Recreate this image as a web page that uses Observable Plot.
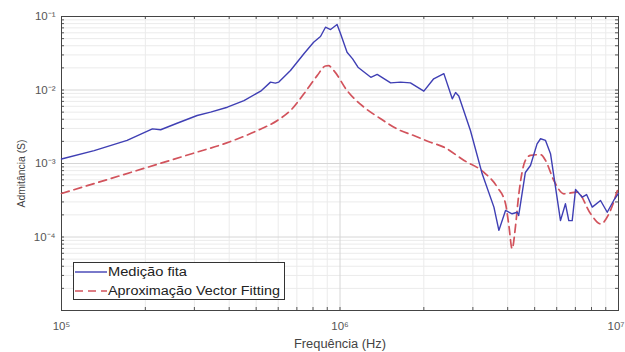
<!DOCTYPE html>
<html>
<head>
<meta charset="utf-8">
<script src="https://cdn.jsdelivr.net/npm/d3@7"></script>
<script src="https://cdn.jsdelivr.net/npm/@observablehq/plot@0.6"></script>
<style>
  html, body { margin: 0; padding: 0; background: #fff; }
  #wrap { position: relative; width: 625px; height: 352px; font-family: "Liberation Sans", Arial, sans-serif; }
  #legend { position: absolute; left: 73px; top: 262px; }
  #legend svg { display: block; }
</style>
</head>
<body>
<div id="wrap"></div>
<script>
// Measured admittance (blue, solid)
const freqMeasured = [1.0e5, 1.31e5, 1.72e5, 2.12e5, 2.27e5, 2.60e5, 3.07e5, 3.43e5, 3.94e5, 4.52e5,
  5.19e5, 5.63e5, 5.86e5, 6.03e5, 6.64e5, 7.42e5, 8.04e5, 8.51e5, 8.87e5, 9.25e5,
  9.76e5, 1.004e6, 1.06e6, 1.11e6, 1.16e6, 1.29e6, 1.36e6, 1.52e6, 1.65e6, 1.79e6,
  2.00e6, 2.17e6, 2.36e6, 2.53e6, 2.60e6, 2.67e6, 2.94e6, 3.24e6, 3.57e6, 3.72e6,
  3.93e6, 4.15e6, 4.33e6, 4.38e6, 4.63e6, 4.83e6, 5.10e6, 5.25e6, 5.47e6, 5.70e6,
  5.94e6, 6.19e6, 6.45e6, 6.63e6, 6.82e6, 7.01e6, 7.41e6, 7.68e6, 8.05e6, 8.62e6,
  9.11e6, 9.61e6, 1.0e7];
const admMeasured = [1.15e-3, 1.50e-3, 2.06e-3, 2.96e-3, 2.88e-3, 3.53e-3, 4.50e-3, 4.99e-3, 5.83e-3, 7.19e-3,
  9.64e-3, 1.28e-2, 1.24e-2, 1.28e-2, 1.84e-2, 3.11e-2, 4.46e-2, 5.34e-2, 7.15e-2, 6.65e-2,
  7.78e-2, 5.87e-2, 3.27e-2, 2.65e-2, 2.04e-2, 1.49e-2, 1.63e-2, 1.25e-2, 1.28e-2, 1.25e-2,
  9.64e-3, 1.42e-2, 1.67e-2, 7.59e-3, 9.24e-3, 8.28e-3, 2.81e-3, 7.24e-4, 2.55e-4, 1.23e-4,
  2.30e-4, 2.07e-4, 2.17e-4, 1.96e-4, 7.55e-4, 9.40e-4, 1.85e-3, 2.17e-3, 2.06e-3, 1.36e-3,
  4.76e-4, 1.67e-4, 2.83e-4, 1.67e-4, 1.67e-4, 4.43e-4, 3.48e-4, 3.78e-4, 2.55e-4, 3.14e-4,
  2.17e-4, 3.14e-4, 3.91e-4];

// Vector Fitting approximation (red, dashed)
const freqFit = [1.0e5, 1.77e5, 3.07e5, 3.83e5, 5.05e5, 5.96e5, 6.64e5, 7.42e5, 8.28e5, 8.87e5,
  9.10e5, 9.50e5, 1.06e6, 1.22e6, 1.40e6, 1.60e6, 1.84e6, 2.11e6, 2.36e6, 2.79e6,
  3.28e6, 3.67e6, 3.93e6, 4.04e6, 4.15e6, 4.27e6, 4.38e6, 4.63e6, 4.83e6, 5.25e6,
  5.47e6, 5.86e6, 6.37e6, 7.11e6, 7.94e6, 8.62e6, 9.36e6, 1.0e7];
const admFit = [3.91e-4, 7.55e-4, 1.43e-3, 1.85e-3, 2.81e-3, 3.85e-3, 5.26e-3, 8.87e-3, 1.57e-2, 2.12e-2,
  2.14e-2, 1.84e-2, 9.84e-3, 5.83e-3, 4.06e-3, 2.96e-3, 2.40e-3, 1.95e-3, 1.67e-3, 1.10e-3,
  7.62e-4, 4.76e-4, 2.83e-4, 1.43e-4, 6.92e-5, 1.43e-4, 3.67e-4, 1.10e-3, 1.29e-3, 1.32e-3,
  1.10e-3, 5.87e-4, 3.87e-4, 4.08e-4, 2.07e-4, 1.51e-4, 2.30e-4, 4.86e-4];

const xTicks = [1e5, 1e6, 1e7];
const yTicks = [1e-4, 1e-3, 1e-2, 1e-1];
const seriesNames = ["Medição fita", "Aproximação Vector Fitting"];
const xLabel = "Frequência (Hz)";
const yLabel = "Admitância (S)";

const blue = "#3f3fb4";
const red = "#d2535c";

const measured = freqMeasured.map((f, i) => ({f, y: admMeasured[i]}));
const fit = freqFit.map((f, i) => ({f, y: admFit[i]}));

const minorX = [];
for (const d of [1e5, 1e6]) for (let k = 2; k <= 9; k++) minorX.push(k * d);
const minorY = [];
for (const d of [1e-5, 1e-4, 1e-3, 1e-2]) for (let k = 2; k <= 9; k++) minorY.push(k * d);

const supMap = {"-": "⁻", "0": "⁰", "1": "¹", "2": "²", "3": "³", "4": "⁴", "5": "⁵", "6": "⁶", "7": "⁷", "8": "⁸", "9": "⁹"};
const powFmt = v => "10" + String(Math.round(Math.log10(v))).split("").map(c => supMap[c]).join("");

const W = 625, H = 352, mT = 16, mB = 42, mL = 61, mR = 7;
const plotH = H - mT - mB, plotW = W - mL - mR;

const chart = Plot.plot({
  width: W,
  height: H,
  marginLeft: mL,
  marginRight: mR,
  marginTop: mT,
  marginBottom: mB,
  style: {fontFamily: "'Liberation Sans', Arial, sans-serif", fontSize: "11px", color: "#555", background: "#fff"},
  x: {type: "log", domain: [1e5, 1e7]},
  y: {type: "log", domain: [1e-5, 1e-1]},
  marks: [
    Plot.ruleX(minorX, {stroke: "#ebebeb", strokeWidth: 1}),
    Plot.ruleY(minorY, {stroke: "#ebebeb", strokeWidth: 1}),
    Plot.ruleX(xTicks, {stroke: "#d6d6d6", strokeWidth: 1}),
    Plot.ruleY(yTicks, {stroke: "#d6d6d6", strokeWidth: 1}),
    // inward ticks on all four sides
    Plot.ruleX(minorX.concat(xTicks), {stroke: "#555", insetTop: plotH - 3}),
    Plot.ruleX(minorX.concat(xTicks), {stroke: "#555", insetBottom: plotH - 3}),
    Plot.ruleY(minorY.concat(yTicks), {stroke: "#555", insetRight: plotW - 3}),
    Plot.ruleY(minorY.concat(yTicks), {stroke: "#555", insetLeft: plotW - 3}),
    Plot.axisX(xTicks, {tickSize: 0, tickPadding: 11, tickFormat: powFmt, fontSize: 11.5,
      label: xLabel, labelAnchor: "center", labelOffset: 37, labelArrow: "none"}),
    Plot.axisY(yTicks, {tickSize: 0, tickPadding: 6, tickFormat: powFmt, fontSize: 11.5,
      label: yLabel, labelAnchor: "center", labelOffset: 44, labelArrow: "none"}),
    Plot.frame({stroke: "#444", strokeWidth: 1}),
    Plot.line(fit, {x: "f", y: "y", stroke: red, strokeWidth: 1.7, strokeDasharray: "8,5", curve: "monotone-x"}),
    Plot.line(measured, {x: "f", y: "y", stroke: blue, strokeWidth: 1.4})
  ]
});

const wrap = document.getElementById("wrap");
wrap.appendChild(chart);
// keep the right-most x tick label inside the picture
const xTickTexts = chart.querySelectorAll("g[aria-label='x-axis tick label'] text");
if (xTickTexts.length) {
  const last = xTickTexts[xTickTexts.length - 1];
  last.setAttribute("text-anchor", "end");
  last.setAttribute("dx", "6");
}
const xl = chart.querySelector("g[aria-label='x-axis label'] text");
if (xl) {
  xl.setAttribute("fill", "#444");
  xl.setAttribute("font-size", "12");
  xl.setAttribute("textLength", "92");
  xl.setAttribute("lengthAdjust", "spacingAndGlyphs");
}
const yl = chart.querySelector("g[aria-label='y-axis label'] text");
if (yl) {
  yl.setAttribute("fill", "#444");
  yl.setAttribute("font-size", "11");
  yl.setAttribute("textLength", "68");
  yl.setAttribute("lengthAdjust", "spacingAndGlyphs");
  yl.setAttribute("dx", "-10");
}

// legend (inline SVG so text can be stretched like the reference)
const legend = document.createElement("div");
legend.id = "legend";
const styles = [{stroke: blue, dash: null, w: 1.4}, {stroke: red, dash: "8,5", w: 1.7}];
const textLens = [79, 172];
let inner = `<svg width="212" height="38"><rect x="0.5" y="0.5" width="211" height="37" fill="#fff" stroke="#333"/>`;
seriesNames.forEach((name, i) => {
  const cy = i === 0 ? 10 : 29;
  const s = styles[i];
  inner += `<line x1="2" y1="${cy}" x2="34" y2="${cy}" stroke="${s.stroke}" stroke-width="${s.w}" ${s.dash ? `stroke-dasharray="${s.dash}"` : ""}/>`;
  inner += `<text x="35" y="${cy + 4.2}" font-family="Liberation Sans, Arial, sans-serif" font-size="12" fill="#222" textLength="${textLens[i]}" lengthAdjust="spacingAndGlyphs">${name}</text>`;
});
inner += `</svg>`;
legend.innerHTML = inner;
wrap.appendChild(legend);
</script>
</body>
</html>
